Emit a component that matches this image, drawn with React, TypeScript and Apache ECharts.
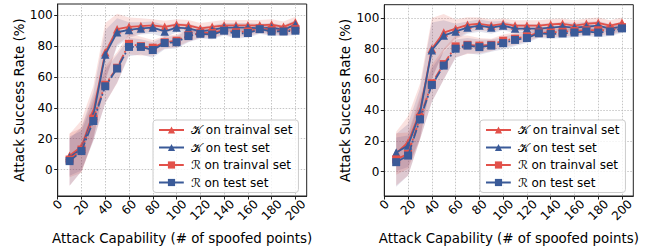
import React, { useEffect, useRef } from "react";
import * as echarts from "echarts";

const xs = [10, 20, 30, 40, 50, 60, 70, 80, 90, 100, 110, 120, 130, 140, 150, 160, 170, 180, 190, 200];
const xTicks = [0, 20, 40, 60, 80, 100, 120, 140, 160, 180, 200];
const yTicks = [0, 20, 40, 60, 80, 100];
const seriesNames = ["𝒦 on trainval set", "𝒦 on test set", "ℛ on trainval set", "ℛ on test set"];

// Left panel
const leftKTrain = [9, 15, 37, 76, 91, 92.5, 93, 93.5, 92.5, 94, 93.5, 91.5, 92.5, 93.5, 93.5, 93.5, 93.5, 94, 92.5, 95.5];
const leftKTest = [8, 13.5, 35, 74.5, 89, 90.5, 91.5, 92, 89.5, 92, 91.5, 89.5, 90.5, 92, 92, 92, 91.5, 92, 90.5, 94];
const leftRTrain = [6.5, 13, 33, 55, 66, 81.5, 80, 79, 82.5, 83.5, 87, 88.5, 88.5, 90.5, 89, 89.5, 91.5, 90.5, 90, 91];
const leftRTest = [5.5, 12, 31.5, 54, 65.5, 79.5, 79.5, 77.5, 82, 82.5, 86.5, 88, 87.5, 90, 88, 88.5, 91, 89.5, 89.5, 90];
const leftKTrainStd = [14, 17, 17, 19, 10, 6, 5, 4, 4, 3.5, 3.5, 3.5, 3.5, 3.5, 3.5, 3.5, 3.5, 3.5, 3.5, 3.5];
const leftKTestStd = [12, 14, 15, 16, 9, 5, 4, 4, 4, 3, 3, 3, 3, 3, 3, 3, 3, 3, 3, 3];
const leftRTrainStd = [17, 14, 14, 12, 10, 7, 6, 5, 4, 4, 4, 3, 3, 3, 3, 3, 3, 3, 3, 3];
const leftRTestStd = [16, 13, 13, 11, 9, 6, 5, 5, 4, 4, 4, 3, 3, 3, 3, 3, 3, 3, 3, 3];

// Right panel
const rightKTrain = [12, 19, 39, 80, 90.5, 93, 95.5, 96.2, 95, 96.2, 95, 95, 95, 95.8, 96.2, 95, 96.2, 96.8, 95, 96.8];
const rightKTest = [12.5, 17, 38, 79, 88.5, 91.2, 93.7, 95, 93.7, 95, 93.1, 93.1, 93.1, 93.7, 94.4, 93.7, 94.4, 95, 93.1, 94.4];
const rightRTrain = [8, 11.5, 35, 57.5, 70, 81.5, 82.5, 82, 82.5, 85.2, 86.5, 88, 90.5, 90.5, 91, 91.5, 92, 92, 92, 94];
const rightRTest = [6.2, 10.5, 34, 56.4, 69, 80, 82, 81, 82, 83.6, 85.7, 86.9, 90, 89.5, 89.9, 90.5, 91.2, 90.5, 91.2, 93.2];
const rightKTrainStd = [14, 17, 18, 20, 12, 6, 5, 4, 4, 3.5, 3.5, 3.5, 3.5, 3.5, 3.5, 3.5, 3.5, 3.5, 3.5, 3.5];
const rightKTestStd = [12, 14, 16, 18, 10, 5, 4, 4, 4, 3, 3, 3, 3, 3, 3, 3, 3, 3, 3, 3];
const rightRTrainStd = [17, 14, 14, 12, 10, 7, 6, 5, 4, 4, 4, 3, 3, 3, 3, 3, 3, 3, 3, 3];
const rightRTestStd = [16, 13, 13, 11, 9, 6, 5, 5, 4, 4, 4, 3, 3, 3, 3, 3, 3, 3, 3, 3];

const RED = "#e2514a";
const BLUE = "#3a5a98";
const FONT = "DejaVu Sans";
const DIGIT_W = 7.63;

function pairs(vals: number[]) {
  return xs.map((x, i) => [x, vals[i]]);
}

function band(idx: number, mean: number[], std: number[], color: string): any {
  return {
    type: "custom",
    xAxisIndex: idx,
    yAxisIndex: idx,
    silent: true,
    z: 1,
    encode: { x: 0, y: [1, 2] },
    data: xs.map((x, i) => [x, mean[i] - std[i], mean[i] + std[i]]),
    renderItem: (params: any, api: any) => {
      if (params.dataIndex !== 0) return { type: "group", children: [] };
      const top = xs.map((x, i) => api.coord([x, mean[i] + std[i]]));
      const bot = xs.map((x, i) => api.coord([x, mean[i] - std[i]])).reverse();
      return {
        type: "polygon",
        shape: { points: top.concat(bot) },
        style: { fill: color, stroke: "none" },
      };
    },
  };
}

function lineSeries(idx: number, name: string, vals: number[], color: string, symbol: string, dashed: boolean, z: number) {
  return {
    type: "line",
    name,
    xAxisIndex: idx,
    yAxisIndex: idx,
    data: pairs(vals),
    symbol,
    symbolSize: symbol === "triangle" ? 8.5 : 8,
    itemStyle: { color },
    lineStyle: { color, width: 1.8, type: dashed ? [9, 2.5, 1.8, 2.5] : "solid" },
    z,
  };
}

function panel(idx: number, kTr: number[], kTe: number[], rTr: number[], rTe: number[], kTrS: number[], kTeS: number[], rTrS: number[], rTeS: number[]) {
  const redBand = "rgba(226,81,74,0.17)";
  const blueBand = "rgba(70,60,130,0.15)";
  return [
    band(idx, kTr, kTrS, redBand),
    band(idx, kTe, kTeS, blueBand),
    band(idx, rTr, rTrS, redBand),
    band(idx, rTe, rTeS, blueBand),
    lineSeries(idx, seriesNames[0], kTr, RED, "triangle", false, 3),
    lineSeries(idx, seriesNames[1], kTe, BLUE, "triangle", false, 4),
    lineSeries(idx, seriesNames[2], rTr, RED, "rect", true, 5),
    lineSeries(idx, seriesNames[3], rTe, BLUE, "rect", true, 6),
  ];
}

const labelRich: any = {};
[1, 2, 3].forEach((n) => {
  const p = 0.5 * n * DIGIT_W;
  labelRich["w" + n] = { fontFamily: FONT, fontSize: 12, color: "#000", padding: [p, p, 0, 0] };
});

function xAxis(idx: number) {
  return {
    type: "value",
    gridIndex: idx,
    min: 0,
    max: 209.5,
    name: "Attack Capability (# of spoofed points)",
    nameLocation: "middle",
    nameGap: 36,
    nameTextStyle: { fontFamily: FONT, fontSize: 13.4, color: "#000" },
    axisLine: { show: true, onZero: false, lineStyle: { color: "#222", width: 1 } },
    axisTick: { show: true, length: 3.5, customValues: xTicks, lineStyle: { color: "#222" } },
    axisLabel: {
      customValues: xTicks,
      rotate: 45,
      margin: 6,
      align: "center",
      verticalAlign: "middle",
      formatter: (v: number) => {
        const s = String(Math.round(v));
        return "{w" + s.length + "|" + s + "}";
      },
      rich: labelRich,
      fontFamily: FONT,
      fontSize: 12,
      color: "#000",
    },
    splitLine: { show: true, lineStyle: { color: "#b8b8b8", type: [1.5, 1.5], width: 0.8 } },
  };
}

function yAxis(idx: number, min: number, max: number) {
  return {
    type: "value",
    gridIndex: idx,
    min,
    max,
    name: "Attack Success Rate (%)",
    nameLocation: "middle",
    nameGap: 29,
    nameTextStyle: { fontFamily: FONT, fontSize: 13.4, color: "#000" },
    axisLine: { show: true, lineStyle: { color: "#222", width: 1 } },
    axisTick: { show: true, length: 3.5, customValues: yTicks, lineStyle: { color: "#222" } },
    axisLabel: { customValues: yTicks, margin: 5, fontFamily: FONT, fontSize: 12, color: "#000" },
    splitLine: { show: true, lineStyle: { color: "#b8b8b8", type: [1.5, 1.5], width: 0.8 } },
  };
}

function legend(left: number, top: number) {
  return {
    orient: "vertical",
    left,
    top,
    data: seriesNames,
    itemWidth: 25,
    itemHeight: 9,
    itemGap: 5.5,
    padding: [4, 6, 4, 5],
    backgroundColor: "rgba(255,255,255,0.8)",
    borderColor: "#cccccc",
    borderWidth: 1,
    borderRadius: 3,
    selectedMode: false,
    textStyle: { fontFamily: FONT, fontSize: 12, color: "#000", padding: [0, 0, 0, 2] },
  };
}

export default function App() {
  const ref = useRef<HTMLDivElement>(null);
  useEffect(() => {
    if (!ref.current) return;
    const chart = echarts.init(ref.current, undefined, { renderer: "svg" });
    chart.setOption({
      animation: false,
      backgroundColor: "#fff",
      grid: [
        { left: 57.7, top: 4, width: 249, height: 198.3, show: true, borderColor: "#222", borderWidth: 1, backgroundColor: "transparent" },
        { left: 384.3, top: 4.7, width: 249, height: 197, show: true, borderColor: "#222", borderWidth: 1, backgroundColor: "transparent" },
      ],
      xAxis: [xAxis(0), xAxis(1)],
      yAxis: [yAxis(0, -17.1, 107.3), yAxis(1, -15.8, 108.6)],
      legend: [legend(153, 120), legend(480, 120)],
      series: [
        ...panel(0, leftKTrain, leftKTest, leftRTrain, leftRTest, leftKTrainStd, leftKTestStd, leftRTrainStd, leftRTestStd),
        ...panel(1, rightKTrain, rightKTest, rightRTrain, rightRTest, rightKTrainStd, rightKTestStd, rightRTrainStd, rightRTestStd),
      ],
    });
    return () => chart.dispose();
  }, []);
  return <div ref={ref} style={{ position: "fixed", left: 0, top: 0, width: 651, height: 250 }} />;
}
